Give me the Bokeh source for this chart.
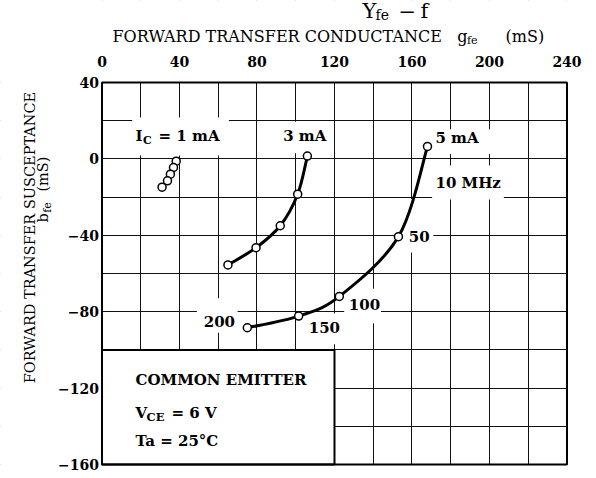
import math
from bokeh.plotting import figure
from bokeh.models import Label, FixedTicker, Range1d, LinearAxis, Grid
from bokeh.embed import file_html
from bokeh.resources import INLINE

# ---------------- data ----------------
# forward transfer conductance g_fe (mS) and susceptance b_fe (mS)
# points at f = 10, 50, 100, 150, 200 MHz
ic1_g = [38.3, 36.9, 35.3, 33.8, 31.0]
ic1_b = [-1.2, -4.5, -8.0, -11.5, -14.8]
ic3_g = [106.0, 101.0, 92.0, 79.5, 65.0]
ic3_b = [1.5, -18.5, -35.0, -46.5, -55.5]
ic5_g = [168.0, 153.0, 122.5, 101.5, 75.0]
ic5_b = [6.5, -40.7, -72.0, -82.3, -88.4]
x_ticks = [0, 40, 80, 120, 160, 200, 240]
y_ticks = [40, 0, -40, -80, -120, -160]
curve_labels = ["1 mA", "3 mA", "5 mA"]
freq_labels = ["10 MHz", "50", "100", "150", "200"]

FONT = "DejaVu Serif"
GX0, GX1 = 0, 240      # chart extent (conductance)
GY0, GY1 = -160, 40    # chart extent (susceptance)

# the frame spans the whole canvas; the chart occupies the inner part
p = figure(width=596, height=478, output_backend="svg", toolbar_location=None,
           x_range=Range1d(-52.39, 255.23), y_range=Range1d(-167.33, 82.93),
           x_axis_location=None, y_axis_location=None,
           min_border=0, min_border_left=0, min_border_right=0,
           min_border_top=0, min_border_bottom=0)
p.background_fill_color = "white"
p.border_fill_color = "white"
p.outline_line_color = None
for r in list(p.center):
    if isinstance(r, Grid):
        r.visible = False

xg = Grid(dimension=0, ticker=FixedTicker(ticks=list(range(GX0, GX1 + 1, 20))))
yg = Grid(dimension=1, ticker=FixedTicker(ticks=list(range(GY0, GY1 + 1, 20))))
for g in (xg, yg):
    g.grid_line_color = "#111111"
    g.grid_line_width = 1
    g.grid_line_alpha = 1.0
    p.add_layout(g)

# white margins around the chart (hide grid outside)
p.quad(left=[-60, GX1, GX0, GX0], right=[GX0, 260, GX1, GX1],
       bottom=[-170, -170, GY1, -170], top=[90, 90, 90, GY0],
       fill_color="white", line_color=None)

# white-outs behind the curve labels (layout, not data)
MASK_L = [15.6, 91, 170, 170.4, 155, 49, 105, 125]
MASK_R = [65.5, 118, 205, 207.4, 171, 70, 123, 144]
MASK_B = [1.8, 3.0, 2.5, -21.2, -49, -91, -97, -86]
MASK_T = [21.7, 19.5, 15.5, -3.5, -21, -73, -81, -68]
p.quad(left=MASK_L, right=MASK_R, bottom=MASK_B, top=MASK_T,
       fill_color="white", line_color=None)

# condition box
p.quad(left=[GX0], right=[120], bottom=[GY0], top=[-100],
       fill_color="white", line_color="black", line_width=2)

# chart border
p.quad(left=[GX0], right=[GX1], bottom=[GY0], top=[GY1],
       fill_color=None, line_color="black", line_width=2)

# axes drawn at the chart edges
xa = LinearAxis(fixed_location=GY1, ticker=FixedTicker(ticks=x_ticks))
ya = LinearAxis(fixed_location=GX0, ticker=FixedTicker(ticks=y_ticks))
for ax in (xa, ya):
    ax.major_tick_line_color = None
    ax.minor_tick_line_color = None
    ax.major_tick_out = 0
    ax.major_tick_in = 0
    ax.minor_tick_out = 0
    ax.minor_tick_in = 0
    ax.axis_line_color = None
    ax.major_label_text_font = FONT
    ax.major_label_text_font_style = "bold"
    ax.major_label_text_font_size = "14px"
    ax.major_label_text_color = "black"
xa.major_label_standoff = 15
ya.major_label_standoff = 3
ya.major_label_overrides = {t: ("\u2212" + str(abs(t)) if t < 0 else str(t)) for t in y_ticks}
p.add_layout(xa, "above")
p.add_layout(ya, "left")


def smooth(xs, ys, **kw):
    n = len(xs)
    X0, Y0, X1, Y1, CX0, CY0, CX1, CY1 = [], [], [], [], [], [], [], []
    for i in range(n - 1):
        a = max(i - 1, 0)
        d = min(i + 2, n - 1)
        X0.append(xs[i]); Y0.append(ys[i])
        X1.append(xs[i + 1]); Y1.append(ys[i + 1])
        CX0.append(xs[i] + (xs[i + 1] - xs[a]) / 6.0)
        CY0.append(ys[i] + (ys[i + 1] - ys[a]) / 6.0)
        CX1.append(xs[i + 1] - (xs[d] - xs[i]) / 6.0)
        CY1.append(ys[i + 1] - (ys[d] - ys[i]) / 6.0)
    p.bezier(x0=X0, y0=Y0, x1=X1, y1=Y1, cx0=CX0, cy0=CY0, cx1=CX1, cy1=CY1,
             line_color="black", **kw)


smooth(ic1_g, ic1_b, line_width=2)
smooth(ic3_g, ic3_b, line_width=3)
smooth(ic5_g, ic5_b, line_width=3)
for gx, by in ((ic1_g, ic1_b), (ic3_g, ic3_b), (ic5_g, ic5_b)):
    p.scatter(gx, by, marker="circle", size=8, fill_color="white",
              line_color="black", line_width=1.5)


def lab(x, y, text, size="15px", style="bold", align="left", baseline="alphabetic", angle=0.0):
    p.add_layout(Label(x=x, y=y, text=text, text_font=FONT, text_font_size=size,
                       text_font_style=style, text_align=align, text_baseline=baseline,
                       text_color="black", angle=angle))


# title  Y_fe - f
lab(134.5, 77.2, "Y", size="21px", style="normal")
lab(141.2, 75.1, "fe", size="14px", style="normal")
lab(153.0, 77.2, "\u2212", size="21px", style="normal")
lab(164.4, 77.2, "f", size="21px", style="normal")

# x axis title
lab(5.4, 64.1, "FORWARD TRANSFER CONDUCTANCE", size="16px", style="normal")
lab(183.4, 64.1, "g", size="16px", style="normal")
lab(188.4, 62.0, "fe", size="11px", style="normal")
lab(208.3, 64.1, "(mS)", size="16px", style="normal")

# y axis title (rotated)
lab(-37.4, -41.2, "FORWARD TRANSFER SUSCEPTANCE", size="14.5px", style="normal",
    align="center", baseline="middle", angle=math.pi / 2)
lab(-30.2, -33.3, "b", size="14.5px", style="normal", baseline="middle", angle=math.pi / 2)
lab(-28.3, -28.2, "fe", size="11px", style="normal", baseline="middle", angle=math.pi / 2)
lab(-30.2, -17.1, "(mS)", size="14.5px", style="normal", baseline="middle", angle=math.pi / 2)

# curve labels
lab(17.3, 11.8, "I")
lab(21.2, 9.7, "C", size="11px")
lab(29.2, 11.8, "= " + curve_labels[0])
lab(93.5, 11.8, curve_labels[1])
lab(172.1, 11.0, curve_labels[2])
lab(172.1, -12.7, freq_labels[0])
lab(158.3, -40.6, freq_labels[1])
lab(127.4, -76.2, freq_labels[2])
lab(106.7, -88.4, freq_labels[3])
lab(52.5, -84.9, freq_labels[4])

# box text
lab(17.3, -115.8, "COMMON EMITTER")
lab(17.3, -133.1, "V")
lab(23.0, -135.2, "CE", size="11.5px")
lab(35.9, -133.1, "= 6 V")
lab(17.3, -147.8, "Ta = 25\u00b0C")

open("out.html", "w").write(file_html(p, INLINE))
